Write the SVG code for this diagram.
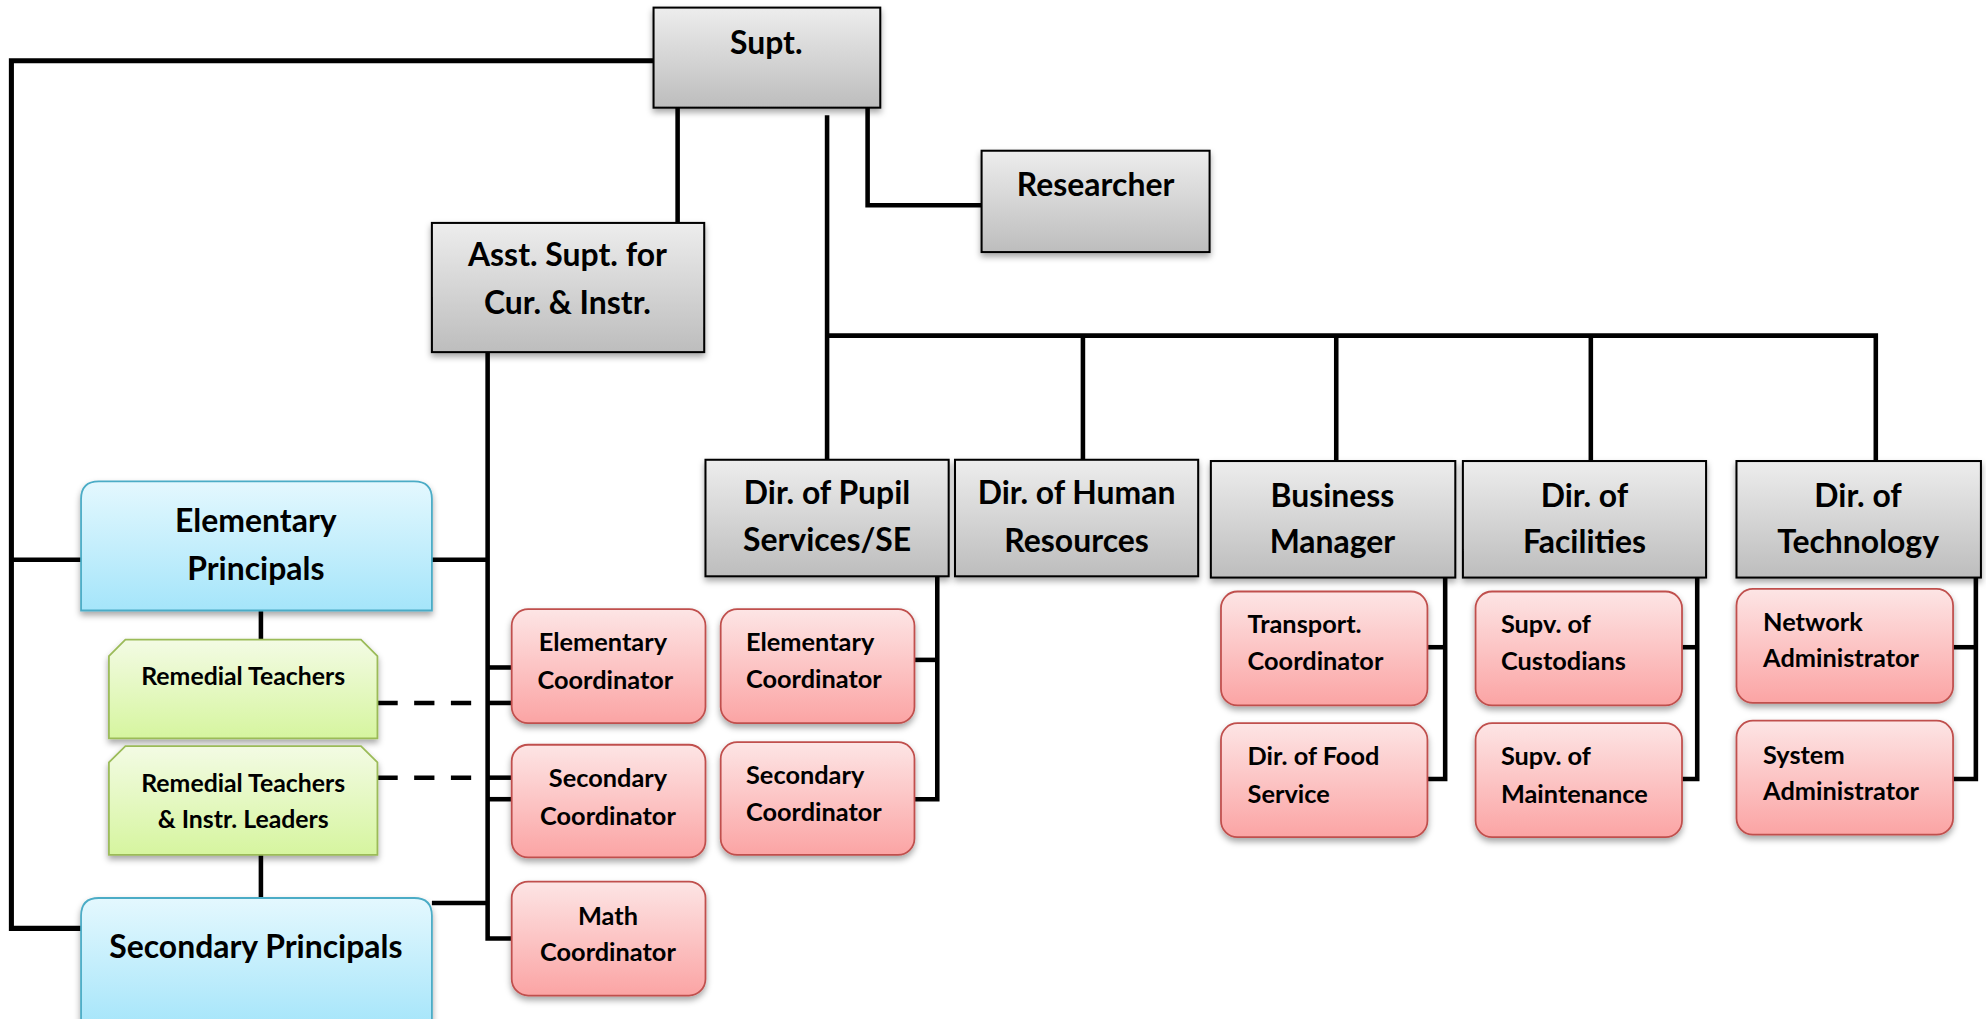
<svg xmlns="http://www.w3.org/2000/svg" width="1986" height="1019" viewBox="0 0 1986 1019">
<defs>
<linearGradient id="gGrey" x1="0" y1="0" x2="0" y2="1"><stop offset="0" stop-color="#ededed"/><stop offset="1" stop-color="#bdbdbd"/></linearGradient>
<linearGradient id="gBlue" x1="0" y1="0" x2="0" y2="1"><stop offset="0" stop-color="#e4f8fe"/><stop offset="1" stop-color="#a5e5fa"/></linearGradient>
<linearGradient id="gGreen" x1="0" y1="0" x2="0" y2="1"><stop offset="0" stop-color="#f3fbe4"/><stop offset="1" stop-color="#d6f59f"/></linearGradient>
<linearGradient id="gPink" x1="0" y1="0" x2="0" y2="1"><stop offset="0" stop-color="#fde5e5"/><stop offset="1" stop-color="#fba4a4"/></linearGradient>
<filter id="sh" x="-10%" y="-10%" width="120%" height="130%"><feDropShadow dx="0" dy="3" stdDeviation="2.5" flood-color="#000" flood-opacity="0.35"/></filter>
</defs>
<style>
.grey{fill:url(#gGrey);stroke:#000;stroke-width:1.6;filter:url(#sh)}
.blue{fill:url(#gBlue);stroke:#4bacc6;stroke-width:1.4;filter:url(#sh)}
.green{fill:url(#gGreen);stroke:#9bbb59;stroke-width:1.4;filter:url(#sh)}
.pink{fill:url(#gPink);stroke:#c0504d;stroke-width:1.4;filter:url(#sh)}
.ln{fill:none;stroke:#000;stroke-width:3.6}
.dash{fill:none;stroke:#000;stroke-width:3.6;stroke-dasharray:16 13}
text{font-family:Lato,"Open Sans","Liberation Sans",sans-serif;font-weight:bold;fill:#000}
.t24{font-size:25.2px;text-anchor:middle}
.t19c{font-size:20px;text-anchor:middle}
.t19l{font-size:20px;text-anchor:start}
.t18{font-size:19.6px;text-anchor:middle}
</style>
<g transform="scale(1.26658)">
<g id="connectors">
<path class="ln" d="M516 48 H9 V733 H64" style="stroke-width:4"/>
<path class="ln" d="M9 442 H64"/>
<path class="ln" d="M535 85 V176"/>
<path class="ln" d="M685 85 V162 H775"/>
<path class="ln" d="M653 91 V363"/>
<path class="ln" d="M653 265 H1481 V364"/>
<path class="ln" d="M855 265 V363"/>
<path class="ln" d="M1055 265 V364"/>
<path class="ln" d="M1256 265 V364"/>
<path class="ln" d="M385 278 V741 H404"/>
<path class="ln" d="M341 442 H385"/>
<path class="ln" d="M341 713 H385"/>
<path class="ln" d="M385 527 H404"/>
<path class="ln" d="M385 555 H404"/>
<path class="ln" d="M385 614 H404"/>
<path class="ln" d="M385 631 H404"/>
<path class="dash" d="M298 555 H385"/>
<path class="dash" d="M298 614 H385"/>
<path class="ln" d="M206 482 V505"/>
<path class="ln" d="M206 675 V709"/>
<path class="ln" d="M740 455 V631 H722"/>
<path class="ln" d="M722 521 H740"/>
<path class="ln" d="M1141 456 V615 H1127"/>
<path class="ln" d="M1127 511 H1141"/>
<path class="ln" d="M1340 456 V615 H1328"/>
<path class="ln" d="M1328 511 H1340"/>
<path class="ln" d="M1560 456 V615 H1542"/>
<path class="ln" d="M1542 511 H1560"/>
</g>
<g id="supt"><rect class="grey" x="516" y="6" width="179" height="79"/><text class="t24" x="605" y="43">Supt.</text></g>
<g id="researcher"><rect class="grey" x="775" y="119" width="180" height="80"/><text class="t24" x="865" y="155">Researcher</text></g>
<g id="asst"><rect class="grey" x="341" y="176" width="215" height="102"/><text class="t24" x="448" y="210">Asst. Supt. for</text><text class="t24" x="448" y="248">Cur. &amp; Instr.</text></g>
<g id="pupil"><rect class="grey" x="557" y="363" width="192" height="92"/><text class="t24" x="653" y="398">Dir. of Pupil</text><text class="t24" x="653" y="435">Services/SE</text></g>
<g id="hr"><rect class="grey" x="754" y="363" width="192" height="92"/><text class="t24" x="850" y="398">Dir. of Human</text><text class="t24" x="850" y="436">Resources</text></g>
<g id="bm"><rect class="grey" x="956" y="364" width="193" height="92"/><text class="t24" x="1052" y="400">Business</text><text class="t24" x="1052" y="437">Manager</text></g>
<g id="fac"><rect class="grey" x="1155" y="364" width="192" height="92"/><text class="t24" x="1251" y="400">Dir. of</text><text class="t24" x="1251" y="437">Facilities</text></g>
<g id="tech"><rect class="grey" x="1371" y="364" width="193" height="92"/><text class="t24" x="1467" y="400">Dir. of</text><text class="t24" x="1467" y="437">Technology</text></g>
<g id="elemPrin"><path class="blue" d="M64 482 V394 Q64 380 78 380 H327 Q341 380 341 394 V482 Z"/><text class="t24" x="202" y="420">Elementary</text><text class="t24" x="202" y="458">Principals</text></g>
<g id="secPrin"><path class="blue" d="M64 812 V723 Q64 709 78 709 H327 Q341 709 341 723 V812 Z"/><text class="t24" x="202" y="756">Secondary Principals</text></g>
<g id="rem1"><path class="green" d="M86 583 V518 L99 505 H285 L298 518 V583 Z"/><text class="t18" x="192" y="541">Remedial Teachers</text></g>
<g id="rem2"><path class="green" d="M86 675 V602 L99 589 H285 L298 602 V675 Z"/><text class="t18" x="192" y="625">Remedial Teachers</text><text class="t18" x="192" y="654">&amp; Instr. Leaders</text></g>
<g id="elemCoord1"><rect class="pink" x="404" y="481" width="153" height="90" rx="13"/><text class="t19c" x="476" y="514">Elementary</text><text class="t19c" x="478" y="544">Coordinator</text></g>
<g id="secCoord1"><rect class="pink" x="404" y="588" width="153" height="89" rx="13"/><text class="t19c" x="480" y="621">Secondary</text><text class="t19c" x="480" y="651">Coordinator</text></g>
<g id="mathCoord"><rect class="pink" x="404" y="696" width="153" height="90" rx="13"/><text class="t19c" x="480" y="730">Math</text><text class="t19c" x="480" y="759">Coordinator</text></g>
<g id="elemCoord2"><rect class="pink" x="569" y="481" width="153" height="90" rx="13"/><text class="t19l" x="589" y="514">Elementary</text><text class="t19l" x="589" y="543">Coordinator</text></g>
<g id="secCoord2"><rect class="pink" x="569" y="586" width="153" height="89" rx="13"/><text class="t19l" x="589" y="619">Secondary</text><text class="t19l" x="589" y="648">Coordinator</text></g>
<g id="transport"><rect class="pink" x="964" y="467" width="163" height="90" rx="13"/><text class="t19l" x="985" y="500">Transport.</text><text class="t19l" x="985" y="529">Coordinator</text></g>
<g id="food"><rect class="pink" x="964" y="571" width="163" height="90" rx="13"/><text class="t19l" x="985" y="604">Dir. of Food</text><text class="t19l" x="985" y="634">Service</text></g>
<g id="custodians"><rect class="pink" x="1165" y="467" width="163" height="90" rx="13"/><text class="t19l" x="1185" y="500">Supv. of</text><text class="t19l" x="1185" y="529">Custodians</text></g>
<g id="maintenance"><rect class="pink" x="1165" y="571" width="163" height="90" rx="13"/><text class="t19l" x="1185" y="604">Supv. of</text><text class="t19l" x="1185" y="634">Maintenance</text></g>
<g id="network"><rect class="pink" x="1371" y="465" width="171" height="90" rx="13"/><text class="t19l" x="1392" y="498">Network</text><text class="t19l" x="1392" y="527">Administrator</text></g>
<g id="system"><rect class="pink" x="1371" y="569" width="171" height="90" rx="13"/><text class="t19l" x="1392" y="603">System</text><text class="t19l" x="1392" y="632">Administrator</text></g>
</g>
</svg>
